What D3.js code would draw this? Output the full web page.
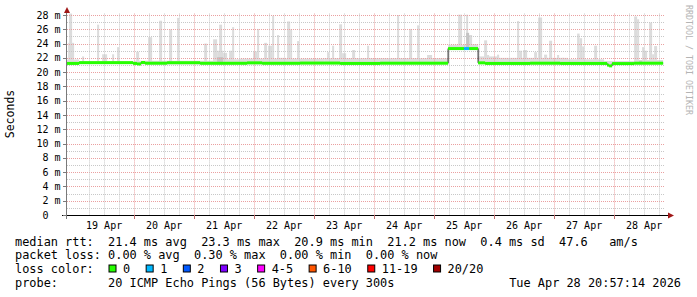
<!DOCTYPE html>
<html>
<head>
<meta charset="utf-8">
<script src="https://cdn.jsdelivr.net/npm/d3@7"></script>
<style>
  body { margin: 0; background: #fff; }
  svg { display: block; font-family: "DejaVu Sans Mono", monospace; }
</style>
</head>
<body>
<svg id="chart" width="697" height="297"></svg>
<script>
// all times are hours after 19 Apr 2026 00:00 UTC
const medianHours = [-3.05, 2.0, 23.6, 25.2, 26.8, 28.4, 37.2, 50.4, 69.2, 75.2, 90.4, 106.4, 122.4, 149.6, 156.0, 158.0, 161.6, 164.4, 182.4, 194.4, 213.2, 214.0, 215.2, 224.0];
const medianMs = [21.22, 21.33, 21.22, 21.15, 21.35, 21.25, 21.32, 21.24, 21.3, 21.24, 21.27, 21.22, 21.25, 23.3, 23.3, 23.3, 21.3, 21.22, 21.25, 21.22, 20.98, 20.88, 21.2, 21.25];
const medianLoss = [0, 0, 0, 0, 0, 0, 0, 0, 0, 0, 0, 0, 0, 0, 1, 0, 0, 0, 0, 0, 0, 0, 0, 0];
const medianEnd = 235.6;

// lower smoke band, step starts and tops
const bandHours = [-3.05, 2.0, 24.0, 55.6, 66.0, 100.0, 149.6, 161.6, 170.0, 196.0, 212.0, 224.0];
const bandTop = [21.75, 21.5, 21.6, 21.8, 21.9, 21.95, 23.85, 22.2, 22.0, 21.8, 21.55, 21.7];

// smoke spikes: [from h, to h, max ms]
const smokeSpikes = [
  [-2.4, 0.0, 24.1], [-2.0, -0.8, 28.3], [0.4, 2.0, 21.75], [3.2, 4.0, 22.2], [9.2, 10.0, 26.65],
  [11.2, 13.2, 22.5], [15.2, 16.0, 22.5], [17.2, 18.0, 23.5], [24.8, 26.0, 22.85],
  [29.6, 31.2, 24.9], [34.0, 35.2, 27.2], [38.0, 39.2, 26.0], [41.2, 42.0, 27.6],
  [52.0, 53.2, 24.0], [55.6, 57.2, 24.6], [57.2, 59.6, 23.0], [58.0, 59.2, 26.65],
  [59.6, 61.2, 22.7], [62.0, 64.0, 23.0], [63.2, 64.0, 26.3], [67.2, 69.2, 21.8],
  [71.6, 73.2, 22.9], [73.2, 74.0, 26.05], [76.0, 77.2, 24.1], [77.6, 79.2, 23.7],
  [79.2, 80.0, 27.9], [81.2, 82.0, 25.2], [82.0, 84.8, 22.0], [85.2, 86.4, 27.1],
  [86.4, 87.2, 26.0], [89.2, 90.0, 24.35], [101.2, 102.0, 22.8], [103.2, 104.0, 23.7],
  [106.0, 107.2, 26.7], [107.2, 108.8, 22.65], [111.2, 112.4, 23.1], [117.2, 118.0, 23.7],
  [129.2, 130.0, 28.0], [134.0, 135.2, 26.05], [137.2, 138.0, 26.55], [141.2, 143.2, 22.4],
  [153.6, 155.2, 28.05], [156.8, 157.6, 28.05], [157.6, 159.2, 25.2], [159.2, 161.6, 23.9],
  [164.0, 165.2, 24.45], [165.2, 166.0, 22.4], [169.2, 170.0, 22.45], [177.2, 178.0, 27.15],
  [178.0, 179.2, 23.0], [179.6, 181.2, 23.1], [184.0, 185.2, 22.8], [185.6, 187.2, 27.65],
  [188.0, 189.2, 22.45], [190.0, 191.2, 24.4], [193.2, 194.0, 22.4], [195.2, 197.6, 22.0],
  [201.2, 202.2, 25.4], [202.2, 203.2, 24.75], [203.2, 204.0, 23.6], [208.0, 209.2, 23.7],
  [224.0, 225.2, 27.8], [225.2, 226.0, 27.4], [227.2, 228.0, 23.5], [228.0, 229.2, 23.0],
  [230.0, 231.2, 26.95], [231.2, 232.0, 22.5], [232.0, 233.2, 23.65]
];
// darker inner smoke
const smokeInner = [[57.2, 59.6, 22.1], [156.8, 158.0, 25.5], [226.0, 227.2, 21.6]];

const yTicks = [0, 2, 4, 6, 8, 10, 12, 14, 16, 18, 20, 22, 24, 26, 28];
const dayTicks = ["2026-04-19", "2026-04-20", "2026-04-21", "2026-04-22", "2026-04-23", "2026-04-24", "2026-04-25", "2026-04-26", "2026-04-27", "2026-04-28"];

const lossLabels = ["0", "1", "2", "3", "4-5", "6-10", "11-19", "20/20"];
const lossColors = ["#26ff00", "#00b8ff", "#0059ff", "#7e00ff", "#ff00ff", "#ff5500", "#ff0000", "#a10000"];

const rttLine = "median rtt:  21.4 ms avg  23.3 ms max  20.9 ms min  21.2 ms now  0.4 ms sd  47.6   am/s";
const lossLine = "packet loss: 0.00 % avg  0.30 % max  0.00 % min  0.00 % now";
const probeLine = "probe:       20 ICMP Echo Pings (56 Bytes) every 300s";
const stampLine = "Tue Apr 28 20:57:14 2026";

const svg = d3.select("#chart");
const t0 = Date.UTC(2026, 3, 19);
const hour = h => new Date(t0 + h * 3600e3);
const end = new Date(Date.UTC(2026, 3, 28, 20, 57, 14));
const start = new Date(+end - 240 * 3600e3);

const x = d3.scaleUtc().domain([start, end]).range([66.5, 666.5]);
const yMax = 28.2;
const y = d3.scaleLinear().domain([0, yMax]).range([215, 215 - (yMax * 200) / 28]);
const plotTop = y(yMax);
const plotLeft = 67, plotRight = 665;

const medianAt = h => medianMs[Math.max(0, d3.bisectRight(medianHours, h) - 1)];

// smoke
const gSmoke = svg.append("g");
gSmoke
  .selectAll("rect.band")
  .data(bandHours)
  .enter()
  .append("rect")
  .attr("x", d => x(hour(d)))
  .attr("width", (d, i) => x(hour(i < bandHours.length - 1 ? bandHours[i + 1] : medianEnd)) - x(hour(d)))
  .attr("y", (d, i) => y(bandTop[i]))
  .attr("height", (d, i) => y(medianAt(d) - 0.15) - y(bandTop[i]))
  .attr("fill", "#dcdcdc");

gSmoke
  .selectAll("rect.spike")
  .data(smokeSpikes)
  .enter()
  .append("rect")
  .attr("x", d => x(hour(d[0])))
  .attr("width", d => x(hour(d[1])) - x(hour(d[0])))
  .attr("y", d => Math.max(plotTop, y(d[2])))
  .attr("height", d => y(medianAt(d[0]) - 0.15) - Math.max(plotTop, y(d[2])))
  .attr("fill", "#dcdcdc");

gSmoke
  .selectAll("rect.inner")
  .data(smokeInner)
  .enter()
  .append("rect")
  .attr("x", d => x(hour(d[0])))
  .attr("width", d => x(hour(d[1])) - x(hour(d[0])))
  .attr("y", d => y(d[2]))
  .attr("height", d => y(medianAt(d[0]) - 0.15) - y(d[2]))
  .attr("fill", "#c4c4c4");

// grid
const grid = svg.append("g").attr("stroke-dasharray", "1,1").attr("stroke-width", 1);
const minorY = d3.range(1, 29, 2);
grid
  .selectAll("line.hy")
  .data(minorY)
  .enter()
  .append("line")
  .attr("x1", plotLeft).attr("x2", plotRight)
  .attr("y1", d => Math.round(y(d)) + 0.5).attr("y2", d => Math.round(y(d)) + 0.5)
  .attr("stroke", "#c8c8c8");
grid
  .selectAll("line.my")
  .data(yTicks.slice(1))
  .enter()
  .append("line")
  .attr("x1", plotLeft).attr("x2", plotRight)
  .attr("y1", d => Math.round(y(d)) + 0.5).attr("y2", d => Math.round(y(d)) + 0.5)
  .attr("stroke", "#eaa0a0");
const sixHours = d3.utcHour.every(6).range(start, end).filter(d => d.getUTCHours() !== 0);
grid
  .selectAll("line.vx")
  .data(sixHours)
  .enter()
  .append("line")
  .attr("x1", d => Math.round(x(d)) + 0.5).attr("x2", d => Math.round(x(d)) + 0.5)
  .attr("y1", plotTop).attr("y2", 215)
  .attr("stroke", "#c8c8c8");
const days = dayTicks.slice(1).map(d => new Date(d + "T00:00:00Z"));
grid
  .selectAll("line.mx")
  .data(days)
  .enter()
  .append("line")
  .attr("x1", d => Math.round(x(d)) + 0.5).attr("x2", d => Math.round(x(d)) + 0.5)
  .attr("y1", plotTop).attr("y2", 215)
  .attr("stroke", "#eaa0a0");

// median: thin dark step line + loss colored band
const steps = medianHours.map((h, i) => ({
  h0: h,
  h1: i < medianHours.length - 1 ? medianHours[i + 1] : medianEnd,
  v: medianMs[i],
  loss: medianLoss[i]
}));
const stepLine = d3
  .line()
  .x(d => x(hour(d[0])))
  .y(d => y(d[1]))
  .curve(d3.curveStepAfter);
svg
  .append("path")
  .datum(steps.map(d => [d.h0, d.v]).concat([[medianEnd, medianMs[medianMs.length - 1]]]))
  .attr("d", stepLine)
  .attr("fill", "none")
  .attr("stroke", "#202020")
  .attr("stroke-width", 1);
svg
  .append("g")
  .selectAll("rect")
  .data(steps)
  .enter()
  .append("rect")
  .attr("x", d => x(hour(d.h0)))
  .attr("width", d => x(hour(d.h1)) - x(hour(d.h0)))
  .attr("y", d => y(d.v) - 1.5)
  .attr("height", 3)
  .attr("fill", d => lossColors[d.loss]);

// axes
const axis = svg.append("g");
axis.append("line")
  .attr("x1", plotLeft - 0.5).attr("x2", plotLeft - 0.5).attr("y1", 219).attr("y2", 9)
  .attr("stroke", "#7a7a7a");
axis.append("line")
  .attr("x1", 62).attr("x2", 670).attr("y1", 215.5).attr("y2", 215.5)
  .attr("stroke", "#000");
axis.append("path").attr("d", "M64,13L67,7L70,13Z").attr("fill", "#a01818");
axis.append("path").attr("d", "M668,212.5L674,215.5L668,218.5Z").attr("fill", "#a01818");

axis.selectAll("line.yt")
  .data(yTicks)
  .enter()
  .append("line")
  .attr("x1", 63).attr("x2", plotLeft)
  .attr("y1", d => Math.round(y(d)) + 0.5).attr("y2", d => Math.round(y(d)) + 0.5)
  .attr("stroke", "#7a7a7a");
axis.selectAll("line.xt")
  .data(days)
  .enter()
  .append("line")
  .attr("x1", d => Math.round(x(d)) + 0.5).attr("x2", d => Math.round(x(d)) + 0.5)
  .attr("y1", 215).attr("y2", 219)
  .attr("stroke", "#c07070");

axis.selectAll("text.yl")
  .data(yTicks)
  .enter()
  .append("text")
  .attr("x", d => (d === 0 ? 48.5 : 60.5))
  .attr("y", d => y(d) + 3.6)
  .attr("text-anchor", "end")
  .attr("font-size", "10px")
  .attr("fill", "#000")
  .text(d => (d === 0 ? "0" : d + " m"));

const dayFmt = d3.utcFormat("%d %b");
axis.selectAll("text.xl")
  .data(dayTicks.map(d => new Date(d + "T12:00:00Z")))
  .enter()
  .append("text")
  .attr("x", d => x(d))
  .attr("y", 228.5)
  .attr("text-anchor", "middle")
  .attr("font-size", "10px")
  .attr("fill", "#000")
  .text(d => dayFmt(d));

svg.append("text")
  .attr("transform", "translate(14,114) rotate(-90)")
  .attr("text-anchor", "middle")
  .attr("font-size", "11.5px")
  .text("Seconds");

svg.append("text")
  .attr("transform", "translate(685.5,60) rotate(90)")
  .attr("text-anchor", "middle")
  .attr("font-size", "8.3px")
  .attr("fill", "#b4b4b4")
  .text("RRDTOOL / TOBI OETIKER");

// legend
const legend = svg.append("g").attr("font-size", "11.9px").attr("fill", "#000");
const rows = [245.5, 259.2, 272.9, 286.6];
legend.append("text").attr("x", 15).attr("y", rows[0]).attr("xml:space", "preserve").text(rttLine);
legend.append("text").attr("x", 15).attr("y", rows[1]).attr("xml:space", "preserve").text(lossLine);
legend.append("text").attr("x", 15).attr("y", rows[2]).text("loss color:");
legend.append("text").attr("x", 15).attr("y", rows[3]).attr("xml:space", "preserve").text(probeLine);
legend.append("text").attr("x", 681).attr("y", rows[3]).attr("text-anchor", "end").text(stampLine);

let bx = 108.5;
lossLabels.forEach((lab, i) => {
  legend.append("rect")
    .attr("x", bx + 0.5).attr("y", 265)
    .attr("width", 7).attr("height", 7)
    .attr("fill", lossColors[i])
    .attr("stroke", "#000");
  legend.append("text").attr("x", bx + 14.5).attr("y", rows[2]).text(lab);
  bx += 14.5 + lab.length * 7.16 + 15.5;
});
</script>
</body>
</html>
